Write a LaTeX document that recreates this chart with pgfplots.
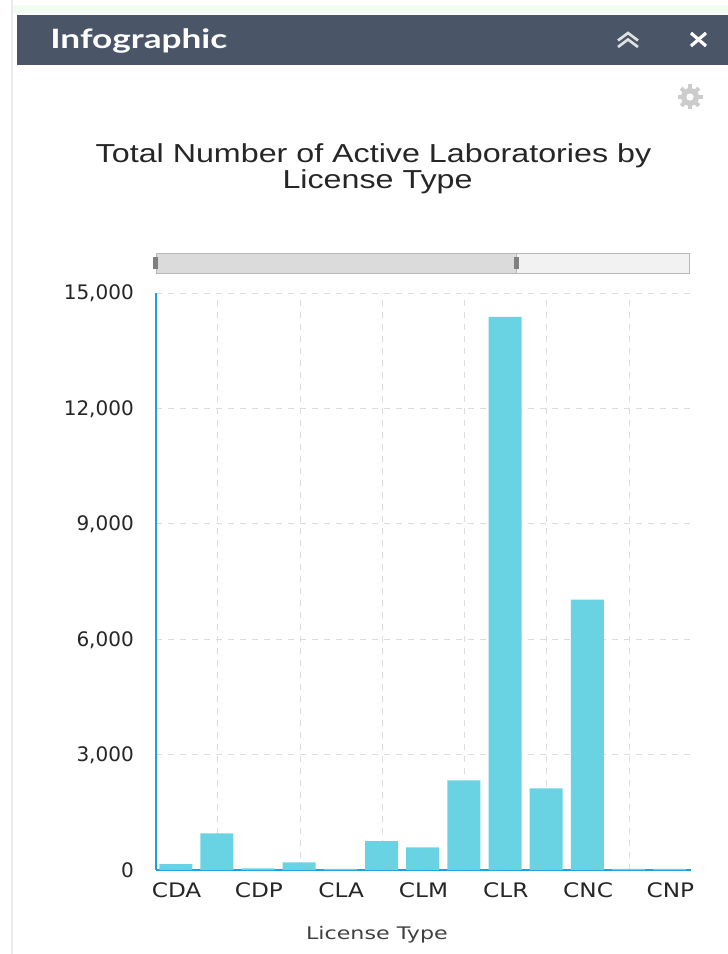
\documentclass[border=0pt]{standalone}
\usepackage{pgfplots}
\pgfplotsset{compat=1.18}
\usepackage{fontspec}
\setmainfont{Liberation Sans}
\newfontfamily\titlefont[FakeStretch=1.24]{Liberation Sans}
\newfontfamily\ytickfont{DejaVu Sans}
\newfontfamily\xtickfont[FakeStretch=1.16]{DejaVu Sans}
\newfontfamily\labfont[FakeStretch=1.28]{DejaVu Sans}
\newfontfamily\headfont[FakeStretch=1.32]{Lato}
\definecolor{bar}{HTML}{69D3E3}
\definecolor{axisblue}{HTML}{1F9FDD}
\definecolor{head}{HTML}{4A5568}
\definecolor{gridc}{HTML}{DCDCDC}
\begin{document}
\begin{tikzpicture}[x=0.75pt,y=0.75pt]
% page: origin bottom-left, 1 unit = 1 px
\path[use as bounding box] (0,0) rectangle (728,954);
\fill[white] (0,0) rectangle (728,954);
% map remnants
\fill[black!10!green!6!white] (12,941) rectangle (728,949);
\fill[black!8] (11,0) rectangle (13,954);
\fill[white] (14,0) rectangle (728,940);
\fill[head] (17,889) rectangle (728,939);
\node[text=white,font=\headfont\bfseries\fontsize{20pt}{22pt}\selectfont,anchor=base west,inner sep=0pt] at (50,905) {Infographic};
% collapse chevrons
\draw[white!88!black,line width=2pt,line join=miter] (618,913.5)--(628,921)--(638,913.5);
\draw[white!88!black,line width=2pt] (618,907)--(628,914.5)--(638,907);
% close
\draw[white,line width=2.4pt] (691,908)--(706,921);
\draw[white,line width=2.4pt] (691,921)--(706,908);
% gear
\begin{scope}[shift={(690,857)}]
\fill[black!20] (0,0) circle (9);
\foreach \a in {0,45,...,315} {\draw[black!20,line width=3pt,rotate=\a] (0,0)--(0,12.5);}
\fill[white] (0,0) circle (3.6);
\end{scope}
% title
\node[text=black!85,font=\titlefont\fontsize{19.5pt}{20pt}\selectfont,anchor=base] at (373.5,791) {Total Number of Active Laboratories by};
\node[text=black!85,font=\titlefont\fontsize{19.5pt}{20pt}\selectfont,anchor=base] at (377.5,765) {License Type};
% slider
\fill[black!5] (156,681) rectangle (689,701);
\fill[black!14] (156,681) rectangle (516,701);
\draw[black!28,line width=0.6pt] (156,681) rectangle (689,701);
\draw[black!28,line width=0.6pt] (516,681) -- (516,701);
\fill[black!50] (153,685) rectangle (158,697);
\fill[black!50] (514,685) rectangle (519,697);
\begin{axis}[
  at={(117pt,63pt)},anchor=south west,
  scale only axis,
  width=401.25pt,height=432.75pt,
  xmin=-0.5,xmax=12.5,ymin=0,ymax=15000,
  axis x line=bottom,axis y line=left,
  axis line style={-,draw=axisblue,line width=1.2pt},
  x axis line style={-,draw=axisblue,line width=1.2pt},
  y axis line style={-,draw=axisblue,line width=1.2pt},
  xtick={0,2,4,6,8,10,12},
  xticklabels={CDA,CDP,CLA,CLM,CLR,CNC,CNP},
  minor xtick={1,3,5,7,9,11},
  ytick={0,3000,6000,9000,12000,15000},
  scaled y ticks=false,
  /pgf/number format/fixed,
  /pgf/number format/1000 sep={,},
  /pgf/number format/assume math mode=true,
  tick style={draw=none},
  minor tick length=0pt,
  xminorgrids=true,ymajorgrids=true,
  minor grid style={gridc,dash pattern=on 4.5pt off 4.5pt,line width=0.7pt},
  major grid style={gridc,dash pattern=on 4.5pt off 4.5pt,line width=0.7pt},
  ticklabel style={text=black!85},
  xticklabel style={font=\xtickfont\fontsize{15pt}{16pt}\selectfont,yshift=-3.5pt},
  yticklabel style={font=\ytickfont\fontsize{15pt}{16pt}\selectfont,xshift=-11pt,yshift=-0.5pt},
  xlabel={License Type},
  xlabel style={font=\labfont\fontsize{13pt}{14pt}\selectfont,text=black!75,at={(axis description cs:0.413,0)},anchor=base,yshift=-52pt},
]
\addplot[ybar,bar width=24.75pt,bar shift=-0.6pt,fill=bar,draw=none] coordinates {
(0,150)(1,950)(2,40)(3,200)(4,30)(5,750)(6,590)(7,2330)(8,14380)(9,2120)(10,7030)(11,30)(12,30)};
\end{axis}
\end{tikzpicture}
\end{document}
